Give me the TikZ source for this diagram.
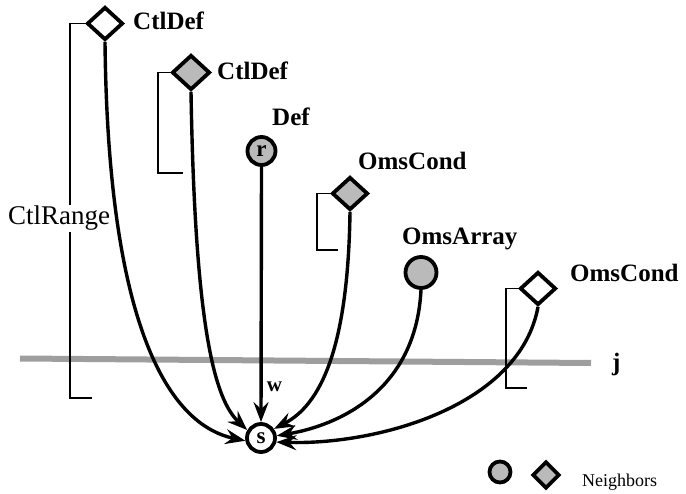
\documentclass[tikz,border=0pt]{standalone}
\usepackage{fontspec}
\setmainfont{Liberation Serif}
\usetikzlibrary{shapes.geometric,arrows.meta}

\tikzset{
  shade/.style={fill=black!27},
  dnode/.style={diamond, draw, line width=3.8pt, inner sep=0pt, minimum width=36pt, minimum height=33pt},
  cnode/.style={circle, draw, line width=3.8pt, inner sep=0pt},
  lbl/.style={font=\fontsize{25}{25}\selectfont\bfseries, inner sep=0pt, anchor=base west},
  bracket/.style={line width=1.3pt},
  dep/.style={line width=3.4pt, -{Stealth[length=20pt,width=15pt,inset=7pt]}},
  band/.style={line width=6pt, draw=black!38}
}

\begin{document}
\begin{tikzpicture}[x=1pt,y=-1pt]
\useasboundingbox (0,0) rectangle (686,494);

% layer line j
\draw[band] (20,358.5) -- (591,363);
\node[lbl] (jl) at (612,371) {j};

% nodes
\node[dnode] (d1) at (105,23.5) {};
\node[dnode, shade, minimum width=38pt, minimum height=35pt] (d2) at (191,72.5) {};
\node[cnode, shade, minimum size=28pt, font=\fontsize{23}{23}\selectfont\bfseries] (r) at (261.5,151) {r};
\node[dnode, shade] (d3) at (350,193.5) {};
\node[cnode, shade, minimum size=31pt] (arr) at (421,272.5) {};
\node[dnode] (d4) at (538,288.5) {};
\node[cnode, fill=white, minimum size=28pt, font=\fontsize{23}{23}\selectfont\bfseries] (s) at (261,438) {s};

% labels
\node[lbl] (l1) at (133,30) {CtlDef};
\node[lbl] (l2) at (217,80) {CtlDef};
\node[lbl] (l3) at (272,126) {Def};
\node[lbl] (l4) at (358,170) {OmsCond};
\node[lbl] (l5) at (402,245) {OmsArray};
\node[lbl] (l6) at (570,282) {OmsCond};

% range brackets
\coordinate (b1) at (92,398);
\coordinate (b2) at (183,173);
\coordinate (b3) at (338,250);
\coordinate (b4) at (527,388);
\draw[bracket] (d1.west) -- ++(-15,0) |- (b1);
\draw[bracket] (d2.west) -- ++(-12,0) |- (b2);
\draw[bracket] (d3.west) -- ++(-13,0) |- (b3);
\draw[bracket] (d4.west) -- ++(-12,0) |- (b4);
\node[font=\fontsize{27}{27}\selectfont, fill=white, inner sep=1pt, anchor=base west] (cr) at (7,225) {CtlRange};

% dependence edges
\draw[dep] (d1.south) .. controls (108,330) and (170,425) .. (s.190);
\draw[dep] (d2.south) .. controls (195,330) and (215,400) .. (s.150);
\draw[dep] (r.south) -- node[pos=0.86, right=4pt, font=\fontsize{21}{21}\selectfont\bfseries, inner sep=0pt] (w) {w} (s.north);
\draw[dep] (d3.south) .. controls (348,350) and (320,405) .. (s.35);
\draw[dep] (arr.south) .. controls (416,390) and (340,425) .. (s.8);
\draw[dep] (d4.south) .. controls (520,405) and (380,445) .. (s.-15);

% legend
\node[cnode, shade, minimum size=21pt] (lc) at (500,472) {};
\node[dnode, shade, minimum width=27pt, minimum height=27pt] (ld) at (546,475) {};
\node[font=\fontsize{18}{18}\selectfont, inner sep=0pt, anchor=base west] (nb) at (582,486) {Neighbors};
\end{tikzpicture}
\end{document}
